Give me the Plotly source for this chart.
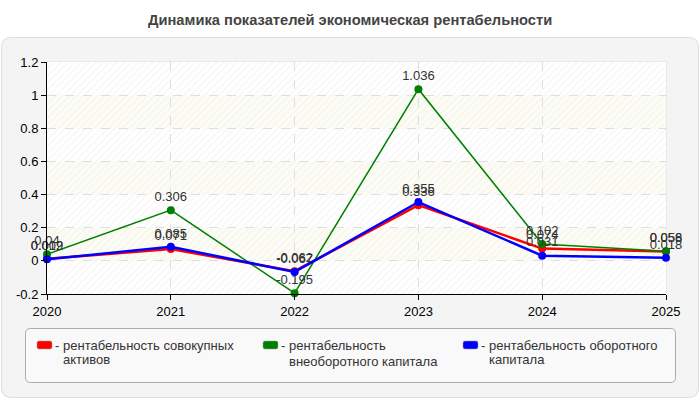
import plotly.graph_objects as go

years = [2020, 2021, 2022, 2023, 2024, 2025]
assets = [0.012, 0.071, -0.062, 0.336, 0.074, 0.056]
noncurrent = [0.04, 0.306, -0.195, 1.036, 0.102, 0.058]
current = [0.009, 0.085, -0.067, 0.355, 0.031, 0.018]

names = [["рентабельность совокупных", "активов"],
         ["рентабельность", "внеоборотного капитала"],
         ["рентабельность оборотного", "капитала"]]
colors = ["#ff0000", "#008000", "#0000ff"]
widths = [2.5, 1.5, 2.5]
yticks = [-0.2, 0, 0.2, 0.4, 0.6, 0.8, 1.0, 1.2]
ytick_text = ["-0.2", "0", "0.2", "0.4", "0.6", "0.8", "1", "1.2"]

W, H = 700, 400
L, R, T, B = 47, 666, 62, 294
def fx(x): return (x - L) / (R - L)
def fy(y): return (B - y) / (B - T)

fig = go.Figure()

# hatched background covering plot area
fig.add_trace(go.Scatter(
    x=[years[0], years[-1], years[-1], years[0], years[0]],
    y=[yticks[0], yticks[0], yticks[-1], yticks[-1], yticks[0]],
    fill="toself", mode="none", fillcolor="rgba(0,0,0,0)",
    fillpattern=dict(shape="/", fgcolor="#e6e6e6", bgcolor="rgba(0,0,0,0)", size=5, solidity=0.2),
    hoverinfo="skip", showlegend=False))

series = [assets, noncurrent, current]
for vals, col, w, nm in zip(series, colors, widths, names):
    fig.add_trace(go.Scatter(
        x=years, y=vals, mode="lines+markers+text", name=" ".join(nm),
        line=dict(color=col, width=w), marker=dict(color=col, size=8),
        text=[("%g" % v) for v in vals], textposition="top center",
        textfont=dict(family="Liberation Sans, Arial", size=13, color="#333333"),
        cliponaxis=False, showlegend=False))

def rounded(x0, y0, x1, y1, r):
    pts = [
        ("M", [(x0, y0 + r)]),
        ("L", [(x0, y1 - r)]),
        ("Q", [(x0, y1), (x0 + r, y1)]),
        ("L", [(x1 - r, y1)]),
        ("Q", [(x1, y1), (x1, y1 - r)]),
        ("L", [(x1, y0 + r)]),
        ("Q", [(x1, y0), (x1 - r, y0)]),
        ("L", [(x0 + r, y0)]),
        ("Q", [(x0, y0), (x0, y0 + r)]),
    ]
    s = ""
    for cmd, ps in pts:
        s += cmd + " " + " ".join("%.5f,%.5f" % (fx(a), fy(b)) for a, b in ps) + " "
    return s + "Z"

shapes = []
shapes.append(dict(type="path", xref="paper", yref="paper", layer="below",
    path=rounded(1.5, 37.5, 698.5, 397.5, 10),
    fillcolor="#f4f4f4", line=dict(color="#dddddd", width=1)))
for i in range(len(yticks) - 1):
    band_col = "#ffffff" if (len(yticks) - 2 - i) % 2 == 0 else "#fcfcf4"
    shapes.append(dict(type="rect", xref="x", yref="y", layer="below",
        x0=years[0], x1=years[-1], y0=yticks[i], y1=yticks[i + 1],
        fillcolor=band_col, line=dict(width=0)))
shapes.append(dict(type="line", xref="paper", yref="paper", layer="below",
    x0=0, x1=1, y0=1, y1=1, line=dict(color="#dddddd", width=1)))
shapes.append(dict(type="line", xref="paper", yref="paper", layer="below",
    x0=1, x1=1, y0=0, y1=1, line=dict(color="#dddddd", width=1)))
shapes.append(dict(type="path", xref="paper", yref="paper", layer="above",
    path=rounded(25.5, 328.5, 675.5, 382.5, 5),
    fillcolor="#f9f9f9", line=dict(color="#aaaaaa", width=1)))

leg_x = [37, 263, 463]
line2_y = [359, 361, 359]
annotations = []
lfont = dict(family="Liberation Sans, Arial", size=13, color="#333333")
for lx, col, nm, y2 in zip(leg_x, colors, names, line2_y):
    shapes.append(dict(type="path", xref="paper", yref="paper", layer="above",
        path=rounded(lx, 341, lx + 15, 349, 2),
        fillcolor=col, line=dict(color="#999999", width=0.5)))
    annotations.append(dict(xref="paper", yref="paper", x=fx(lx + 16), y=fy(345),
        text="-", showarrow=False, xanchor="left", yanchor="middle", font=lfont))
    annotations.append(dict(xref="paper", yref="paper", x=fx(lx + 24), y=fy(345),
        text=nm[0], showarrow=False, xanchor="left", yanchor="middle", font=lfont))
    annotations.append(dict(xref="paper", yref="paper", x=fx(lx + 24), y=fy(y2),
        text=nm[1], showarrow=False, xanchor="left", yanchor="middle", font=lfont))

annotations.append(dict(xref="paper", yref="paper", x=fx(350), y=fy(20),
    text="<b>Динамика показателей экономическая рентабельности</b>", showarrow=False,
    xanchor="center", yanchor="middle",
    font=dict(family="Liberation Sans, Arial", size=14.7, color="#444444")))

fig.update_layout(
    width=W, height=H, margin=dict(l=L, r=W - R, t=T, b=H - B),
    paper_bgcolor="#ffffff", plot_bgcolor="rgba(0,0,0,0)",
    shapes=shapes, annotations=annotations,
    font=dict(family="Liberation Sans, Arial", size=13, color="#000000"),
    xaxis=dict(range=[years[0], years[-1]], tickmode="array", tickvals=years,
        ticktext=[str(y) for y in years], showline=True, linecolor="#000000", linewidth=1,
        ticks="outside", ticklen=5, tickcolor="#000000",
        showgrid=True, gridcolor="#dddddd", griddash="dash", gridwidth=1, zeroline=False,
        tickfont=dict(size=13, color="#000000")),
    yaxis=dict(range=[yticks[0], yticks[-1]], tickmode="array", tickvals=yticks,
        ticktext=ytick_text, showline=True, linecolor="#000000", linewidth=1,
        ticks="outside", ticklen=5, tickcolor="#000000",
        showgrid=True, gridcolor="#dddddd", griddash="dash", gridwidth=1, zeroline=False,
        tickfont=dict(size=13, color="#000000")),
)

fig.write_html("out.html")
